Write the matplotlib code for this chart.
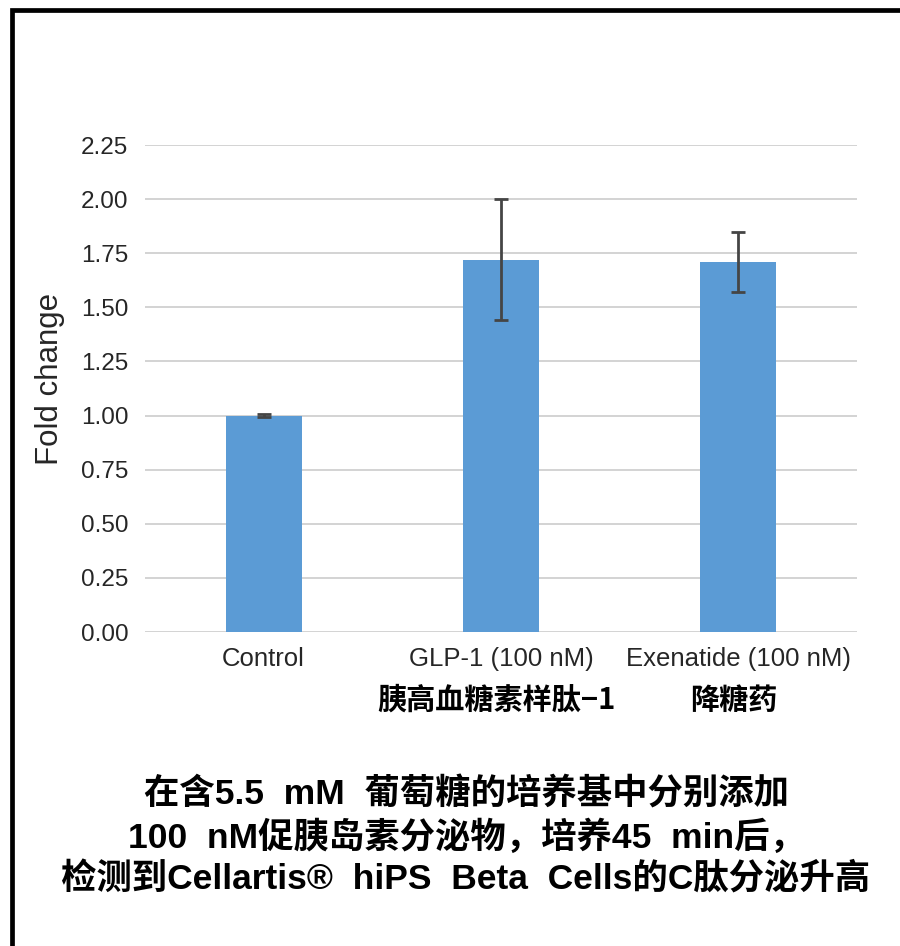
import matplotlib.pyplot as plt
from matplotlib.patches import Rectangle
from matplotlib.transforms import blended_transform_factory

# data
categories = ["Control", "GLP-1 (100 nM)", "Exenatide (100 nM)"]
sub_labels = ["", "胰高血糖素样肽−1", "降糖药"]
fold_change = [1.00, 1.72, 1.71]
errors = [0.005, 0.28, 0.14]
y_ticks = [0.00, 0.25, 0.50, 0.75, 1.00, 1.25, 1.50, 1.75, 2.00, 2.25]
caption = [
    "在含5.5  mM  葡萄糖的培养基中分别添加",
    "100  nM促胰岛素分泌物，培养45  min后，",
    "检测到Cellartis®  hiPS  Beta  Cells的C肽分泌升高",
]

latin = ["Liberation Sans", "Noto Sans CJK SC"]
cjk = ["Noto Sans CJK SC", "Liberation Sans"]

W, H = 900, 946
fig = plt.figure(figsize=(W / 100, H / 100), dpi=100)
ax = fig.add_axes([145 / W, 1 - 632 / H, (857 - 145) / W, (632 - 145) / H])

x = list(range(len(categories)))
ax.bar(x, fold_change, width=0.32, color="#5b9bd5", zorder=3)
ax.errorbar(x, fold_change, yerr=errors, fmt="none", ecolor="#454545",
            elinewidth=2, capsize=5, capthick=2, zorder=4)

ax.set_xlim(-0.5, 2.5)
ax.set_ylim(0, 2.25)
ax.set_yticks(y_ticks)
ax.set_yticklabels([f"{v:.2f}" for v in y_ticks], family=latin, fontsize=17.5, color="#262626")
ax.set_xticks(x)
ax.set_xticklabels(categories, family=latin, fontsize=18.5, color="#262626")
ax.tick_params(axis="both", length=0)
ax.tick_params(axis="y", pad=12)
ax.tick_params(axis="x", pad=11)
ax.grid(axis="y", color="#d0d0d0", linewidth=1.3, zorder=0)
ax.set_axisbelow(True)
for s in ax.spines.values():
    s.set_visible(False)

ax.set_ylabel("Fold change", family=latin, fontsize=22.5, color="#262626")
ax.yaxis.set_label_coords(-0.113, 0.52)

# chinese names under the tick labels
tr = blended_transform_factory(ax.transData, fig.transFigure)
for xi, lab in zip(x, sub_labels):
    if lab:
        ax.text(xi - 0.02, 1 - 700 / H, lab, transform=tr, ha="center", va="center",
                family=cjk, fontsize=21, fontweight="bold", color="black")

# caption
for i, line in enumerate(caption):
    fig.text(466 / W, 1 - (795 + 42 * i) / H, line, ha="center", va="center",
             family=latin, fontsize=25.5, fontweight="bold", color="black")

# frame (left and top edges only are visible in the picture)
fig.patches.append(Rectangle((12 / W, -0.2), 1.5, 1.2 - 9.5 / H, transform=fig.transFigure,
                             fill=False, edgecolor="black", linewidth=3.4))

fig.savefig("out.png", dpi=100)
